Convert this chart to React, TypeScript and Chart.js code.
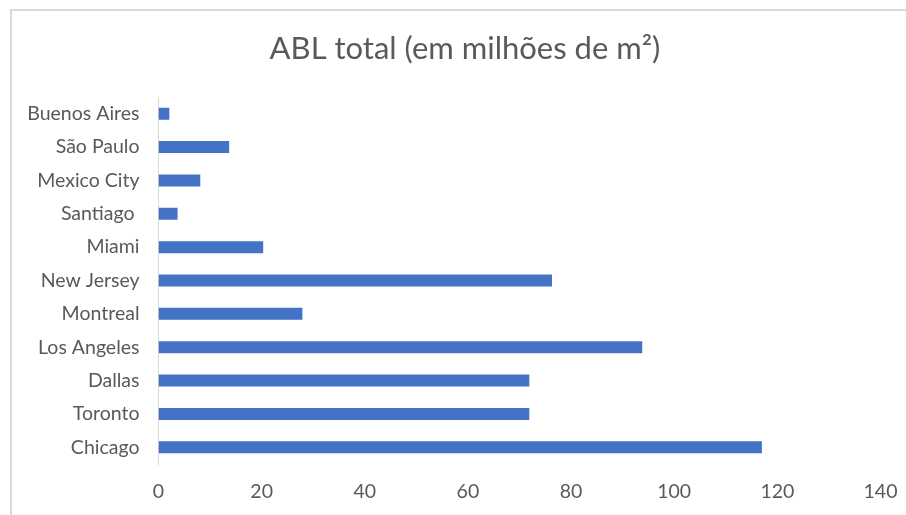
import React, { useEffect, useRef } from "react";
import { Chart, registerables } from "chart.js";

Chart.register(...registerables);

const categories = [
  "Buenos Aires",
  "São Paulo",
  "Mexico City",
  "Santiago ",
  "Miami",
  "New Jersey",
  "Montreal",
  "Los Angeles",
  "Dallas",
  "Toronto",
  "Chicago",
];
const ablValues = [2.1, 13.7, 8.1, 3.7, 20.3, 76.3, 27.9, 93.8, 71.9, 71.9, 117];
const xMin = 0;
const xMax = 140;
const xStep = 20;
const titleText = "ABL total (em milhões de m²)";

const FONT = "Lato, 'Open Sans', sans-serif";
const CANVAS_W = 930;
const CANVAS_H = 515;

export default function App() {
  const ref = useRef<HTMLCanvasElement | null>(null);

  useEffect(() => {
    document.body.style.margin = "0";
    document.body.style.overflow = "hidden";
    const canvas = ref.current;
    if (!canvas) return;
    const chart = new Chart(canvas, {
      type: "bar",
      data: {
        labels: categories,
        datasets: [
          {
            label: "ABL",
            data: ablValues,
            backgroundColor: "#4472C4",
            borderWidth: 0,
            barPercentage: 0.36,
            categoryPercentage: 1,
          },
        ],
      },
      options: {
        indexAxis: "y",
        animation: false,
        responsive: false,
        maintainAspectRatio: false,
        layout: { padding: { left: 0, right: 0, top: 0, bottom: 0 } },
        plugins: {
          legend: { display: false },
          tooltip: { enabled: false },
          title: {
            display: true,
            text: titleText,
            color: "#595959",
            font: { family: FONT, size: 31, weight: "normal" as any, lineHeight: 1.2 },
            padding: { top: 30.5, bottom: 29.3 },
          },
        },
        scales: {
          x: {
            min: xMin,
            max: xMax,
            grid: { display: false, drawTicks: false },
            border: { display: false },
            ticks: {
              stepSize: xStep,
              color: "#595959",
              font: { family: FONT, size: 19.5 },
              padding: 16,
            },
            afterFit: (scale: any) => {
              scale.height = 51;
              scale.paddingRight = 49.5;
              scale.paddingLeft = 0;
            },
          },
          y: {
            grid: { display: false, drawTicks: false },
            border: { display: true, color: "#D9D9D9", width: 1 },
            ticks: {
              color: "#595959",
              font: { family: FONT, size: 19.5 },
              padding: 19,
            },
            afterFit: (scale: any) => {
              scale.width = 158.5;
            },
          },
        },
      },
    });
    return () => chart.destroy();
  }, []);

  return (
    <div
      style={{
        position: "fixed",
        left: 0,
        top: 0,
        width: 906,
        height: 515,
        overflow: "hidden",
        background: "#ffffff",
      }}
    >
      <div
        style={{
          position: "absolute",
          left: 10,
          top: 9,
          width: 1000,
          height: 600,
          border: "2px solid #D9D9D9",
          boxSizing: "border-box",
        }}
      />
      <canvas
        ref={ref}
        width={CANVAS_W}
        height={CANVAS_H}
        style={{ position: "absolute", left: 0, top: 0, width: CANVAS_W, height: CANVAS_H }}
      />
    </div>
  );
}
